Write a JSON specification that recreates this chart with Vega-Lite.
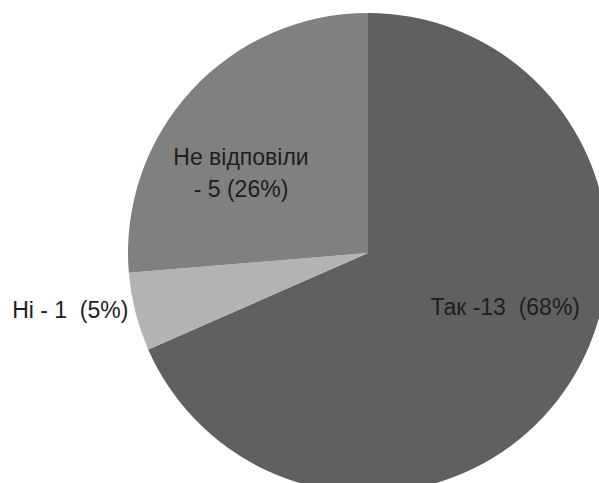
{
  "$schema": "https://vega.github.io/schema/vega-lite/v6.json",
  "width": 736,
  "height": 506,
  "padding": 0,
  "autosize": "none",
  "background": "white",
  "view": {"stroke": null},
  "data": {
    "values": [
      {"category": "Так", "count": 13, "rank": 1, "label": "Так -13 \u00a0(68%)"},
      {"category": "Ні", "count": 1, "rank": 2, "label": "Ні - 1 \u00a0(5%)"},
      {"category": "Не відповіли", "count": 5, "rank": 3, "label": "Не відповіли\n- 5 (26%)"}
    ]
  },
  "encoding": {
    "theta": {"field": "count", "type": "quantitative", "stack": true},
    "order": {"field": "rank", "type": "quantitative"}
  },
  "layer": [
    {
      "mark": {"type": "arc", "outerRadius": 240, "stroke": null},
      "encoding": {
        "color": {
          "field": "category",
          "type": "nominal",
          "scale": {"domain": ["Так", "Ні", "Не відповіли"], "range": ["#606060", "#b3b3b3", "#808080"]},
          "legend": null
        }
      }
    },
    {
      "mark": {"type": "text", "radius": 140, "dx": 20, "dy": -22, "align": "center", "baseline": "middle", "font": "Liberation Sans", "fontSize": 23, "color": "#1e1e1e"},
      "encoding": {
        "text": {"condition": {"test": "datum.category === 'Так'", "field": "label"}, "value": ""}
      }
    },
    {
      "mark": {"type": "text", "radius": 140, "dx": -162, "dy": 24, "align": "center", "baseline": "middle", "font": "Liberation Sans", "fontSize": 23, "color": "#1e1e1e"},
      "encoding": {
        "text": {"condition": {"test": "datum.category === 'Ні'", "field": "label"}, "value": ""}
      }
    },
    {
      "mark": {"type": "text", "radius": 140, "dx": -24, "dy": 0, "align": "center", "baseline": "middle", "lineBreak": "\n", "lineHeight": 32, "font": "Liberation Sans", "fontSize": 23, "color": "#1e1e1e"},
      "encoding": {
        "text": {"condition": {"test": "datum.category === 'Не відповіли'", "field": "label"}, "value": ""}
      }
    }
  ]
}
